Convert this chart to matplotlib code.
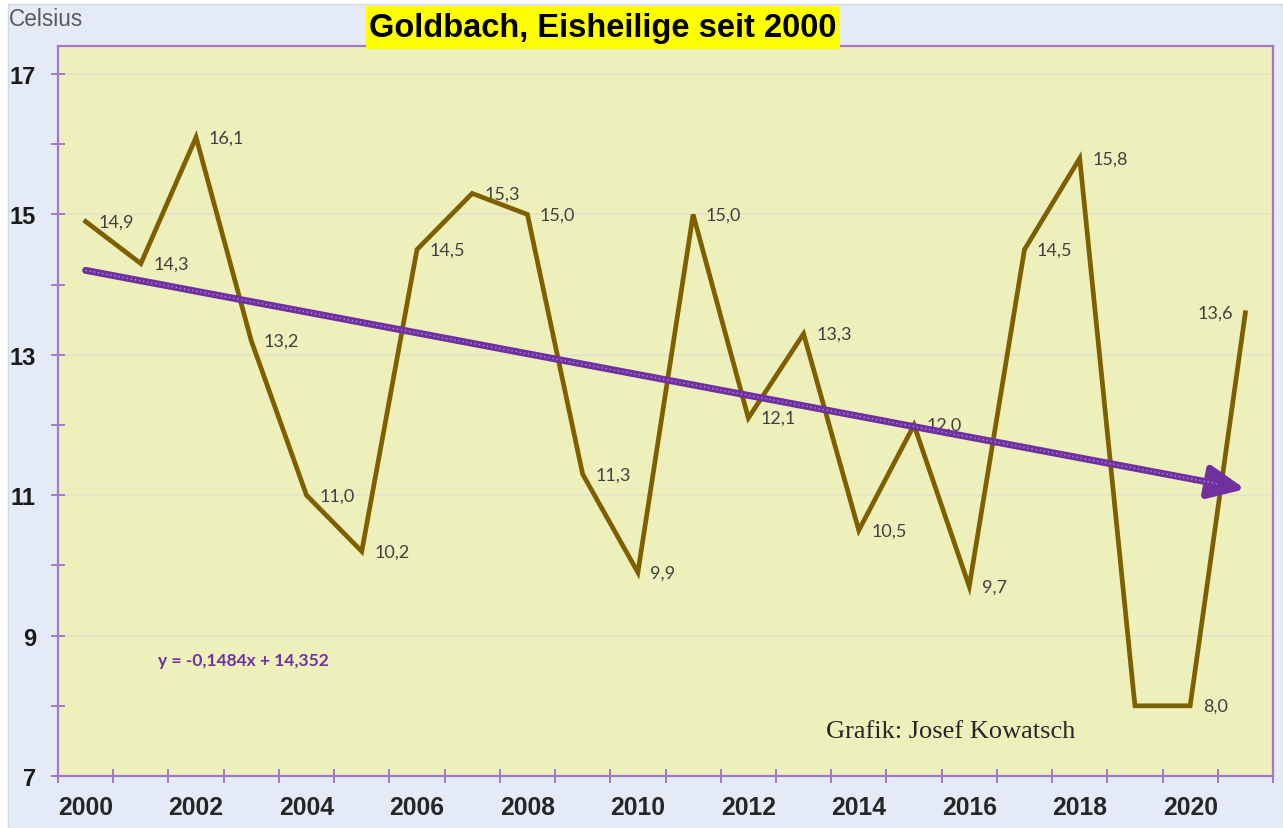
import matplotlib
matplotlib.use("Agg")
import matplotlib.pyplot as plt
from matplotlib.patches import Rectangle
import numpy as np

years = list(range(2000, 2022))
temps = [14.9, 14.3, 16.1, 13.2, 11.0, 10.2, 14.5, 15.3, 15.0, 11.3, 9.9,
         15.0, 12.1, 13.3, 10.5, 12.0, 9.7, 14.5, 15.8, 8.0, 8.0, 13.6]
show_label = [True] * 22
show_label[19] = False
label_left = [False] * 22
label_left[21] = True
x_tick_labels = [str(y) for y in range(2000, 2021, 2)]
trend_slope = -0.1484
trend_icept = 14.352

W, H = 1283, 829
fig = plt.figure(figsize=(W / 100, H / 100), dpi=100, facecolor="white")

def fx(px):
    return px / W

def fy(py):
    return 1 - py / H

# outer background
fig.patches.append(Rectangle((fx(8), 0), 1 - fx(8), fy(5), transform=fig.transFigure,
                             facecolor="#e5ebf6", edgecolor="#d4d8e0", lw=1, zorder=-10))

ax = fig.add_axes([fx(58), fy(777), fx(1273) - fx(58), fy(47) - fy(777)])
ax.set_facecolor("#eef0bc")
ax.set_xlim(-0.5, 21.5)
ax.set_ylim(7, 17.4)

purple = "#a678c8"
for s in ax.spines.values():
    s.set_color(purple)
    s.set_linewidth(1.6)

# gridlines
for v in [9, 11, 13, 15, 17]:
    ax.axhline(v, color="#e3e3c6", lw=1.2, zorder=0.5)

# y ticks
ax.set_yticks([7, 9, 11, 13, 15, 17])
ax.set_yticks([8, 10, 12, 14, 16], minor=True)
ax.tick_params(axis="y", which="both", direction="inout", length=10, width=1.4,
               color=purple, pad=11)
ax.tick_params(axis="y", which="major", labelsize=17, labelcolor="#1a1a1a")
for t in ax.get_yticklabels():
    t.set_fontweight("bold")
    t.set_family("Liberation Sans")

# x ticks: labels at categories, marks at boundaries
idx = np.arange(len(years))
ax.set_xticks(idx[::2])
ax.set_xticklabels(x_tick_labels, fontsize=17.8, fontweight="bold",
                   color="#262626", family="Liberation Sans")
ax.set_xticks(np.arange(-0.5, 22, 1), minor=True)
ax.tick_params(axis="x", which="major", length=0, pad=14)
ax.tick_params(axis="x", which="minor", direction="inout", length=10, width=1.4,
               color=purple)

# data line
ax.plot(idx, temps, color="#7f6000", lw=3.4, solid_joinstyle="miter", zorder=3)

# data labels
for i, (v, show, left) in enumerate(zip(temps, show_label, label_left)):
    if not show:
        continue
    txt = f"{v:.1f}".replace(".", ",")
    if left:
        ax.annotate(txt, (i, v), xytext=(-9, 0), textcoords="offset points",
                    ha="right", va="center", fontsize=13, color="#404040",
                    family="Lato", zorder=2)
    else:
        ax.annotate(txt, (i, v), xytext=(9, 0), textcoords="offset points",
                    ha="left", va="center", fontsize=13, color="#404040",
                    family="Lato", zorder=2)

# trend arrow
tx0, tx1 = 0, 21
ty0 = trend_slope * (tx0 + 1) + trend_icept
ty1 = trend_slope * (tx1 + 1) + trend_icept
ax.annotate("", xy=(tx1, ty1), xytext=(tx0, ty0),
            arrowprops=dict(arrowstyle="-|>,head_length=1.1,head_width=0.5",
                            color="#7030a0", lw=5, shrinkA=0, shrinkB=0,
                            mutation_scale=20, capstyle="round"),
            zorder=4)
tx_end = 20.5
ax.plot([tx0, tx_end], [ty0, trend_slope * (tx_end + 1) + trend_icept],
        color="#a88ad8", lw=1.0, ls=(0, (1, 2)), zorder=5)

# equation text
fig.text(fx(243), fy(661), "y = -0,1484x + 14,352", ha="center", va="center",
         fontsize=12.5, fontweight="bold", color="#7030a0", family="Lato")

# credit
fig.text(fx(951), fy(732), "Grafik: Josef Kowatsch", ha="center", va="center",
         fontsize=19, color="#262626", family="Liberation Serif")

# Celsius
fig.text(fx(9), fy(20), "Celsius", ha="left", va="center", fontsize=16.3,
         color="#595959", family="Liberation Sans")

# title
fig.patches.append(Rectangle((fx(366), fy(50)), fx(840) - fx(366), fy(7) - fy(50),
                             transform=fig.transFigure, facecolor="#ffff00",
                             edgecolor="none", zorder=5))
fig.text(fx(603), fy(29), "Goldbach, Eisheilige seit 2000", ha="center", va="center",
         fontsize=23.5, fontweight="bold", color="black", family="Liberation Sans",
         zorder=6)

fig.savefig("out.png", dpi=100, facecolor=fig.get_facecolor())
